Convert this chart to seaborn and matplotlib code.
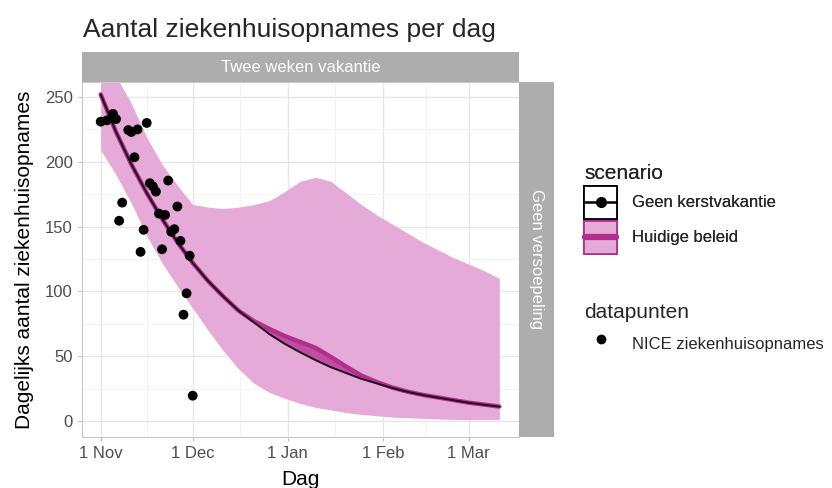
import matplotlib
matplotlib.use("Agg")
import matplotlib.pyplot as plt
from matplotlib.lines import Line2D
from matplotlib.patches import Rectangle
import numpy as np
import pandas as pd
import seaborn as sns

# ---- data ----
START = pd.Timestamp("2020-11-01")

curve_days = [0, 5, 10, 15, 20, 25, 30, 35, 40, 45, 50, 55, 60, 65,
              70, 75, 80, 85, 90, 95, 100, 105, 110, 115, 120, 125, 130]
geen_kerst = [252, 223, 198, 176, 156, 138, 122, 108, 96, 85, 76, 67, 59.5, 53,
              47, 41.5, 37, 32.5, 29, 25.5, 22.5, 20, 18, 16, 14, 12.5, 11]
huidig = [252, 223, 198, 176, 156, 138, 122, 108, 96, 85, 77, 71, 65.5, 61,
          56.5, 49.5, 42, 35, 30, 25.8, 22.6, 20.1, 18.1, 16.1, 14.1, 12.6, 11.1]
band_low = [209, 190, 168, 143, 122, 104, 87, 70, 54, 40, 29, 22, 17.5, 13.5,
            10.5, 8.5, 6.5, 5, 4, 3, 2.5, 2, 1.5, 1.2, 1, 1, 1]
band_high = [290, 266, 245, 219, 198, 182, 167, 165, 164, 165, 167, 170, 177, 185,
             188, 185, 176, 167, 159, 152, 145, 138, 132, 126, 121, 116, 110]

nice_days = [0, 2, 4, 4, 5, 9, 10, 12, 15, 11, 7, 6, 14, 13, 16, 17, 18,
             22, 19, 21, 25, 23, 24, 20, 26, 29, 28, 27, 30]
nice_values = [231, 232, 235, 237, 233, 224.5, 223, 225, 230, 203.5, 168.5, 154.5,
               147.5, 130.5, 183.5, 181, 177, 185.5, 160, 159, 165.5, 146, 148,
               132.5, 139, 127.5, 98.5, 82, 19.5]

tick_days = [0, 30, 61, 92, 120]
tick_labels = ["1 Nov", "1 Dec", "1 Jan", "1 Feb", "1 Mar"]
minor_days = [15, 45.5, 76.5, 106]

RIBBON = "#e6aad8"
MAGENTA = "#b32f8e"
DARK = "#1c0d1a"
STRIP = "#adadad"
GRID = "#e6e6e6"

curves = pd.DataFrame({
    "date": START + pd.to_timedelta(curve_days, unit="D"),
    "geen": geen_kerst,
    "huidig": huidig,
    "low": band_low,
    "high": band_high,
})
points = pd.DataFrame({
    "date": START + pd.to_timedelta(nice_days, unit="D"),
    "opnames": nice_values,
})


class KeyHandler:
    """ggplot-like legend key: filled box with a line (and optional point) through it."""

    def __init__(self, face, edge, line_color, lw, marker=None):
        self.face, self.edge = face, edge
        self.line_color, self.lw, self.marker = line_color, lw, marker

    def legend_artist(self, legend, orig_handle, fontsize, handlebox):
        x0, y0 = -handlebox.xdescent, -handlebox.ydescent
        w, h = handlebox.width, handlebox.height
        tr = handlebox.get_transform()
        box = Rectangle((x0, y0), w, h, facecolor=self.face, edgecolor=self.edge,
                        lw=1.3, transform=tr)
        handlebox.add_artist(box)
        ym = y0 + h / 2
        ln = Line2D([x0 + 1, x0 + w - 1], [ym, ym], color=self.line_color,
                    lw=self.lw, transform=tr)
        handlebox.add_artist(ln)
        if self.marker:
            pt = Line2D([x0 + w / 2], [ym], color=self.line_color, lw=0,
                        marker=self.marker, ms=7, transform=tr)
            handlebox.add_artist(pt)
        return box


sns.set_theme(style="white")
plt.rcParams["font.family"] = ["Liberation Sans", "DejaVu Sans"]

W, H = 832, 488
fig = plt.figure(figsize=(W / 100, H / 100), dpi=100)

def fbox(x0, y0, x1, y1):
    return [x0 / W, 1 - y1 / H, (x1 - x0) / W, (y1 - y0) / H]

ax = fig.add_axes(fbox(82, 82, 519, 437))

# grid (ggplot theme_light look)
for d in tick_days:
    ax.axvline(START + pd.Timedelta(days=d), color=GRID, lw=0.9, zorder=0)
for d in minor_days:
    ax.axvline(START + pd.Timedelta(days=d), color="#f1f1f1", lw=0.6, zorder=0)
for v in range(0, 251, 50):
    ax.axhline(v, color=GRID, lw=0.9, zorder=0)
for v in range(25, 251, 50):
    ax.axhline(v, color="#f1f1f1", lw=0.6, zorder=0)

# ribbon + lines
ax.fill_between(curves["date"], curves["low"], curves["high"],
                color=RIBBON, lw=0, zorder=1)
ax.fill_between(curves["date"], curves["geen"], curves["huidig"],
                color=MAGENTA, alpha=0.75, lw=0, zorder=2)
sns.lineplot(data=curves, x="date", y="huidig", color=MAGENTA, lw=3.2, ax=ax, zorder=3)
sns.lineplot(data=curves, x="date", y="geen", color=DARK, lw=1.4, ax=ax, zorder=4)
sns.scatterplot(data=points, x="date", y="opnames", color="black", s=50,
                edgecolor="none", ax=ax, zorder=5)

ax.set_xlim(START - pd.Timedelta(days=6.1), START + pd.Timedelta(days=136.4))
ax.set_ylim(-12.4, 261.6)
ax.set_xticks([START + pd.Timedelta(days=d) for d in tick_days])
ax.set_xticklabels(tick_labels)
ax.set_yticks(range(0, 251, 50))
ax.tick_params(axis="both", length=3, width=0.6, color="#b3b3b3",
               labelsize=12, labelcolor="#4d4d4d", pad=3.5, bottom=True, left=True)
for sp in ax.spines.values():
    sp.set_color("#c8c8c8")
    sp.set_linewidth(0.8)

ax.set_xlabel("Dag", fontsize=15, color="black")
ax.set_ylabel("Dagelijks aantal ziekenhuisopnames", fontsize=15, color="black")
ax.xaxis.set_label_coords(0.5, -0.093)
ax.yaxis.set_label_coords(-0.11, 0.5)

# facet strips
top = fig.add_axes(fbox(82, 52, 519, 82))
top.set_facecolor(STRIP)
top.set_xticks([]); top.set_yticks([])
for sp in top.spines.values():
    sp.set_visible(False)
top.text(0.5, 0.5, "Twee weken vakantie", color="white", fontsize=12,
         ha="center", va="center", transform=top.transAxes)

side = fig.add_axes(fbox(519, 82, 554, 437))
side.set_facecolor(STRIP)
side.set_xticks([]); side.set_yticks([])
for sp in side.spines.values():
    sp.set_visible(False)
side.text(0.5, 0.5, "Geen versoepeling", color="white", fontsize=12, rotation=-90,
          ha="center", va="center", transform=side.transAxes)

fig.text(83 / W, 1 - 37.5 / H, "Aantal ziekenhuisopnames per dag",
         fontsize=19, ha="left", va="baseline")

# legends
k_geen, k_huidig = object(), object()
leg1 = fig.legend([k_geen, k_huidig], ["Geen kerstvakantie", "Huidige beleid"],
                  handler_map={k_geen: KeyHandler("white", "black", "black", 1.8, "o"),
                               k_huidig: KeyHandler(RIBBON, MAGENTA, MAGENTA, 4.5)},
                  title="scenario", loc="upper left",
                  bbox_to_anchor=(584 / W, 1 - 164 / H), frameon=False,
                  fontsize=12, title_fontsize=15, alignment="left",
                  handlelength=2.0, handleheight=2.66, handletextpad=0.9,
                  labelspacing=0.12, borderpad=0, borderaxespad=0)
leg1._legend_box.sep = 2
fig.add_artist(leg1)
leg2 = fig.legend([Line2D([], [], color="black", lw=0, marker="o", ms=6)],
                  ["NICE ziekenhuisopnames"], title="datapunten", loc="upper left",
                  bbox_to_anchor=(584 / W, 1 - 303 / H), frameon=False,
                  fontsize=12, title_fontsize=15, alignment="left",
                  handlelength=2.0, handleheight=2.4, handletextpad=0.9,
                  borderpad=0, borderaxespad=0)
leg2._legend_box.sep = 5

fig.savefig("out.png", dpi=100)
